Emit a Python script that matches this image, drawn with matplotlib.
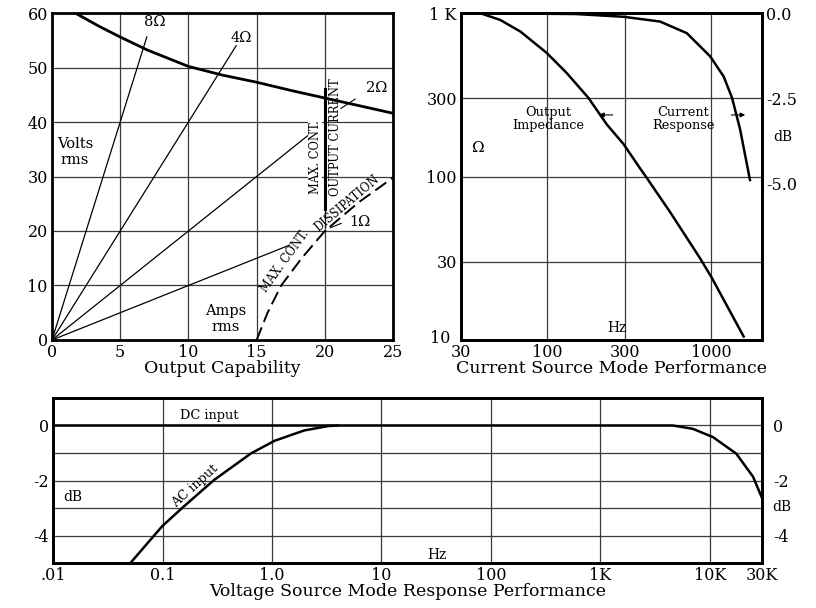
import numpy as np
import matplotlib.pyplot as plt
from matplotlib.ticker import FixedLocator, NullLocator

plt.rcParams['font.family'] = ['DejaVu Serif']

# --- Output capability data ---
load_ohms = ['8Ω', '4Ω', '2Ω', '1Ω']
load_end_amps = [6.95, 13.5, 18.9, 17.4]
load_end_volts = [55.6, 54.0, 37.8, 17.4]
load_label_xy = [(7.5, 58.3), (13.9, 55.4), (23.8, 46.3), (22.6, 21.6)]

limit_amps = [1.7, 3.5, 5, 7, 10, 12.5, 15, 17.5, 20, 22.5, 25]
limit_volts = [60, 57.5, 55.6, 53.2, 50.2, 48.6, 47.3, 45.8, 44.4, 43.0, 41.6]

current_amps = [20, 20]
current_volts = [24, 46]

dissip_amps = [15, 15.8, 16.8, 18.3, 20, 22.5, 25]
dissip_volts = [0, 5, 10, 15, 20, 25.3, 29.8]

# --- Current source mode data ---
imp_hz = [30, 39, 52, 69, 100, 132, 179, 232, 293, 370, 398, 564, 858, 1014, 1581]
imp_ohm = [1000, 1000, 907, 770, 569, 430, 303, 208, 158, 112, 101, 60.5, 31.6, 23.9, 10.5]

cur_hz = [30, 150, 293, 489, 712, 988, 1194, 1344, 1504, 1728]
cur_db = [0, -0.03, -0.11, -0.25, -0.59, -1.27, -1.86, -2.49, -3.41, -4.9]

# --- Voltage source mode data ---
dc_hz = [0.01, 1000, 4600, 6980, 10660, 17400, 24800, 30000]
dc_db = [0, 0, 0, -0.12, -0.42, -1.02, -1.86, -2.64]
ac_hz = [0.0509, 0.0994, 0.157, 0.296, 0.64, 1.05, 1.97, 3.26, 4.0]
ac_db = [-5, -3.66, -2.94, -1.98, -1.02, -0.56, -0.18, -0.02, 0]

GRID = dict(color='#3a3a3a', lw=0.9)
TICK = 11.5


def frame(ax):
    for s in ax.spines.values():
        s.set_linewidth(2)
    ax.tick_params(length=0, labelsize=TICK, pad=3)


fig = plt.figure(figsize=(8.16, 6.08), dpi=100)

# ---------------- Output capability ----------------
ax1 = fig.add_axes([0.0637, 0.4408, 0.418, 0.5378])
ax1.set_xlim(0, 25)
ax1.set_ylim(0, 60)
ax1.set_xticks([0, 5, 10, 15, 20, 25])
ax1.set_yticks([0, 10, 20, 30, 40, 50, 60])
ax1.grid(True, **GRID)
ax1.set_axisbelow(True)
frame(ax1)
ax1.set_xlabel('Output Capability', fontsize=12.5, labelpad=-1)

for name, xe, ye, (lx, ly) in zip(load_ohms, load_end_amps, load_end_volts, load_label_xy):
    ax1.plot([0, xe], [0, ye], color='black', lw=0.9)
    ax1.text(lx, ly, name, fontsize=10.5, ha='center', va='center')
ax1.annotate('', xy=(21.0, 42.2), xytext=(22.4, 44.5),
             arrowprops=dict(arrowstyle='-', lw=0.8))
ax1.annotate('', xy=(20.2, 20.4), xytext=(21.4, 21.6),
             arrowprops=dict(arrowstyle='-', lw=0.8))

ax1.plot(limit_amps, limit_volts, color='black', lw=2)
ax1.plot(current_amps, current_volts, color='black', lw=2.2)
ax1.plot([20, 20], [20, 24], color='black', lw=1, ls=':')
ax1.plot(dissip_amps, dissip_volts, color='black', lw=1.4, dashes=(7, 3))

ax1.text(19.3, 33.5, 'MAX. CONT.', rotation=90, fontsize=8.3, ha='center', va='center',
         bbox=dict(facecolor='white', edgecolor='none', pad=0.5))
ax1.text(20.8, 37.3, 'OUTPUT CURRENT', rotation=90, fontsize=8.3, ha='center', va='center')
ax1.text(17.1, 14.4, 'MAX. CONT.', rotation=54, fontsize=8.3, ha='center', va='center')
ax1.text(21.6, 25.0, 'DISSIPATION', rotation=40, fontsize=8.3, ha='center', va='center')
ax1.text(1.7, 34.5, 'Volts\nrms', fontsize=10.5, ha='center', va='center', linespacing=1.2)
ax1.text(12.7, 3.8, 'Amps\nrms', fontsize=10.5, ha='center', va='center', linespacing=1.2)

# ---------------- Current source mode ----------------
ax2 = fig.add_axes([0.565, 0.4408, 0.3689, 0.5378])
ax2.set_xscale('log')
ax2.set_yscale('log')
ax2.set_xlim(30, 2047)
ax2.set_ylim(10, 1000)
ax2.xaxis.set_major_locator(FixedLocator([30, 100, 300, 1000]))
ax2.yaxis.set_major_locator(FixedLocator([10, 30, 100, 300, 1000]))
ax2.xaxis.set_minor_locator(NullLocator())
ax2.yaxis.set_minor_locator(NullLocator())
ax2.set_xticklabels(['30', '100', '300', '1000'])
# the "10" label sits a little further left in the original, drawn separately below
ax2.set_yticklabels(['', '30', '100', '300', '1 K'])
ax2.grid(True, **GRID)
frame(ax2)
ax2.annotate('10', xy=(0, 0), xycoords='axes fraction', xytext=(-8, 1),
             textcoords='offset points', ha='right', va='center', fontsize=TICK)
ax2.set_xlabel('Current Source Mode Performance', fontsize=12.5, labelpad=-1)
ax2.plot(imp_hz, imp_ohm, color='black', lw=1.8)

ax2r = ax2.twinx()
ax2r.set_ylim(-9.59, 0)
ax2r.set_yticks([0, -2.5, -5.0])
ax2r.set_yticklabels(['0.0', '-2.5', '-5.0'])
ax2r.tick_params(length=0, labelsize=TICK, pad=3)
for s in ax2r.spines.values():
    s.set_linewidth(2)
ax2r.plot(cur_hz, cur_db, color='black', lw=1.8)

ax2.text(102, 225, 'Output\nImpedance', fontsize=9.3, ha='center', va='center', linespacing=1.0)
ax2.text(680, 225, 'Current\nResponse', fontsize=9.3, ha='center', va='center', linespacing=1.0)
ax2.annotate('', xy=(200, 238), xytext=(262, 238),
             arrowprops=dict(arrowstyle='-|>', lw=0.8, color='black', mutation_scale=7))
ax2.annotate('', xy=(1680, 238), xytext=(1280, 238),
             arrowprops=dict(arrowstyle='-|>', lw=0.8, color='black', mutation_scale=7))
ax2.text(35, 150, 'Ω', fontsize=11, ha='left', va='center')
ax2.text(305, 10.7, 'Hz', fontsize=10, ha='right', va='bottom')
fig.text(783 / 816, 1 - 137 / 608, 'dB', fontsize=10, ha='center', va='center')

# ---------------- Voltage source mode ----------------
ax3 = fig.add_axes([0.065, 0.074, 0.8689, 0.2714])
ax3.set_xscale('log')
ax3.set_xlim(0.01, 30000)
ax3.set_ylim(-5, 1)
xt = [0.01, 0.1, 1, 10, 100, 1000, 10000, 30000]
ax3.xaxis.set_major_locator(FixedLocator(xt))
ax3.xaxis.set_minor_locator(NullLocator())
ax3.set_xticklabels(['.01', '0.1', '1.0', '10', '100', '1K', '10K', '30K'])
ax3.set_yticks([0, -2, -4])
ax3.set_yticklabels(['0', '-2', '-4'])
ax3.yaxis.set_minor_locator(FixedLocator([-1, -3]))
ax3.tick_params(which='minor', length=0)
ax3.grid(True, which='both', **GRID)
frame(ax3)
ax3.set_xlabel('Voltage Source Mode Response Performance', fontsize=12.5, labelpad=-1)
ax3.plot(dc_hz, dc_db, color='black', lw=1.8)
ax3.plot(ac_hz, ac_db, color='black', lw=1.8)

ax3r = ax3.twinx()
ax3r.set_ylim(-5, 1)
ax3r.set_yticks([0, -2, -4])
ax3r.set_yticklabels(['0', '-2', '-4'])
ax3r.tick_params(length=0, labelsize=TICK, pad=8)
for s in ax3r.spines.values():
    s.set_linewidth(2)

ax3.text(0.145, 0.35, 'DC input', fontsize=9.3, ha='left', va='center')
ax3.text(0.2, -2.2, 'AC input', fontsize=9.3, rotation=42, ha='center', va='center')
ax3.text(0.0125, -2.6, 'dB', fontsize=10, ha='left', va='center')
ax3.text(32, -4.7, 'Hz', fontsize=10, ha='center', va='center')
fig.text(782 / 816, 1 - 507 / 608, 'dB', fontsize=10, ha='center', va='center')

plt.savefig('out.png', dpi=100)
